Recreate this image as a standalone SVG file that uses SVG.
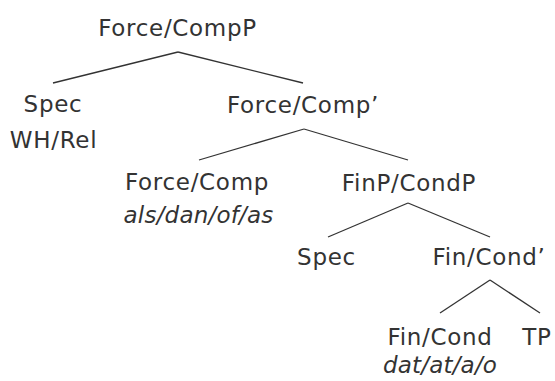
<svg xmlns="http://www.w3.org/2000/svg" width="555" height="381" viewBox="0 0 555 381">
  <style>
    text { font-family: "DejaVu Sans", sans-serif; font-size: 23px; letter-spacing: 0.7px; fill: #333; text-anchor: middle; }
    .it { font-style: italic; letter-spacing: 0.2px; }
    .edge { stroke: #333; stroke-width: 1.3; fill: none; }
  </style>
  <rect width="555" height="381" fill="#fff"/>
  <g id="connectors">
    <line class="edge" x1="178" y1="52" x2="53" y2="83"/>
    <line class="edge" x1="178" y1="52" x2="303" y2="83"/>
    <line class="edge" x1="304" y1="129" x2="199" y2="160"/>
    <line class="edge" x1="304" y1="129" x2="408" y2="160"/>
    <line class="edge" x1="408" y1="203" x2="328" y2="237"/>
    <line class="edge" x1="408" y1="203" x2="490" y2="237"/>
    <line class="edge" x1="490" y1="280" x2="440" y2="313"/>
    <line class="edge" x1="490" y1="280" x2="540" y2="313"/>
  </g>
  <g id="forcecompP"><text x="177.5" y="36">Force/CompP</text></g>
  <g id="spec1"><text x="53" y="112">Spec</text><text x="53.5" y="148">WH/Rel</text></g>
  <g id="forcecompbar"><text x="303" y="113">Force/Comp’</text></g>
  <g id="forcecomp"><text x="197" y="190">Force/Comp</text><text class="it" x="198.5" y="223">als/dan/of/as</text></g>
  <g id="finpcondp"><text x="409" y="191">FinP/CondP</text></g>
  <g id="spec2"><text x="326.5" y="265">Spec</text></g>
  <g id="fincondbar"><text x="489" y="265">Fin/Cond’</text></g>
  <g id="fincond"><text x="440" y="345">Fin/Cond</text><text class="it" x="440" y="373">dat/at/a/o</text></g>
  <g id="tp"><text x="537" y="345">TP</text></g>
</svg>
